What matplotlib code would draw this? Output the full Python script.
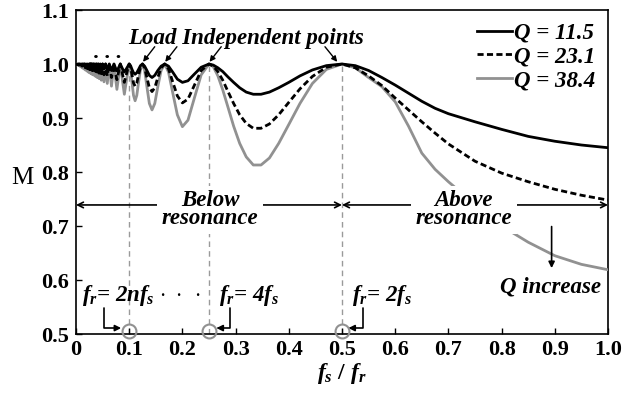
import matplotlib
matplotlib.use('Agg')
import matplotlib.pyplot as plt
from matplotlib.font_manager import FontProperties

plt.rcParams['font.family'] = ['Liberation Serif', 'DejaVu Serif']
plt.rcParams['mathtext.fontset'] = 'custom'
plt.rcParams['mathtext.it'] = 'Liberation Serif:italic:bold'
plt.rcParams['mathtext.rm'] = 'Liberation Serif:italic:bold'
plt.rcParams['mathtext.bf'] = 'Liberation Serif:italic:bold'

# normalised switching frequency fs/fr
fs_fr = [0.0, 0.0025, 0.004, 0.0055, 0.007, 0.0085, 0.01, 0.0115, 0.013, 0.0145,
         0.016, 0.0175, 0.019, 0.0205, 0.022, 0.0235,
         0.025, 0.0256, 0.0263, 0.027, 0.0278, 0.0286, 0.0294, 0.0303, 0.0313, 0.0323,
         0.0333, 0.0345, 0.0357, 0.037, 0.0385, 0.04, 0.0417, 0.0435, 0.0455, 0.0476,
         0.05, 0.0526, 0.0556, 0.0588, 0.0625, 0.0667, 0.0714,
         0.0741, 0.0769, 0.08, 0.0833,
         0.087, 0.0909, 0.0952, 0.1,
         0.1026, 0.1053, 0.1081, 0.1111, 0.1143, 0.1176, 0.1212, 0.125,
         0.129, 0.1333, 0.1379, 0.1429, 0.1481, 0.1538, 0.16, 0.1667,
         0.1739, 0.1818, 0.1905, 0.2, 0.2105, 0.2222, 0.2353, 0.25,
         0.2581, 0.2667, 0.2759, 0.2857, 0.2963, 0.3077, 0.32, 0.3333,
         0.3478, 0.3636, 0.381, 0.4, 0.421, 0.4444, 0.4706, 0.5,
         0.525, 0.55, 0.575, 0.6, 0.625, 0.65, 0.675, 0.7,
         0.75, 0.8, 0.85, 0.9, 0.95, 1.0]

# voltage gain M for each loaded Q
m_q115 = [1.0, 0.999, 1.0, 0.999, 1.0, 0.998, 1.0, 0.998, 1.0, 0.997,
          1.0, 0.997, 1.0, 0.996, 1.0, 0.996,
          1.0, 0.995, 1.0, 0.995, 1.0, 0.995, 1.0, 0.995, 1.0, 0.994,
          1.0, 0.994, 1.0, 0.993, 1.0, 0.993, 1.0, 0.992, 1.0, 0.991,
          1.0, 0.991, 1.0, 0.989, 1.0, 0.988, 1.0,
          0.993, 0.987, 0.993, 1.0,
          0.992, 0.985, 0.992, 1.0,
          0.997, 0.990, 0.984, 0.981, 0.984, 0.990, 0.997, 1.0,
          0.996, 0.988, 0.979, 0.975, 0.979, 0.988, 0.996, 1.0,
          0.996, 0.985, 0.972, 0.966, 0.969, 0.981, 0.994, 1.0,
          0.998, 0.993, 0.986, 0.976, 0.966, 0.956, 0.948, 0.944,
          0.944, 0.948, 0.956, 0.966, 0.978, 0.989, 0.997, 1.0,
          0.997, 0.988, 0.975, 0.961, 0.946, 0.931, 0.918, 0.908,
          0.893, 0.879, 0.866, 0.857, 0.850, 0.845]

m_q231 = [1.0, 0.999, 1.0, 0.998, 1.0, 0.997, 1.0, 0.996, 1.0, 0.994,
          1.0, 0.993, 1.0, 0.992, 1.0, 0.991,
          1.0, 0.990, 1.0, 0.990, 1.0, 0.989, 1.0, 0.988, 1.0, 0.988,
          1.0, 0.987, 1.0, 0.986, 1.0, 0.985, 1.0, 0.983, 1.0, 0.982,
          1.0, 0.980, 1.0, 0.978, 1.0, 0.975, 1.0,
          0.985, 0.971, 0.985, 1.0,
          0.983, 0.966, 0.983, 1.0,
          0.994, 0.980, 0.965, 0.959, 0.965, 0.980, 0.994, 1.0,
          0.993, 0.975, 0.956, 0.949, 0.956, 0.975, 0.993, 1.0,
          0.991, 0.967, 0.941, 0.928, 0.935, 0.960, 0.988, 1.0,
          0.996, 0.986, 0.970, 0.949, 0.927, 0.906, 0.890, 0.881,
          0.881, 0.889, 0.906, 0.929, 0.954, 0.977, 0.994, 1.0,
          0.993, 0.978, 0.960, 0.937, 0.915, 0.893, 0.872, 0.852,
          0.820, 0.798, 0.782, 0.768, 0.757, 0.748]

m_q384 = [1.0, 0.998, 1.0, 0.997, 1.0, 0.995, 1.0, 0.993, 1.0, 0.991,
          1.0, 0.989, 1.0, 0.987, 1.0, 0.985,
          1.0, 0.984, 1.0, 0.983, 1.0, 0.982, 1.0, 0.981, 1.0, 0.980,
          1.0, 0.979, 1.0, 0.977, 1.0, 0.975, 1.0, 0.973, 1.0, 0.970,
          1.0, 0.967, 1.0, 0.964, 1.0, 0.959, 1.0,
          0.976, 0.953, 0.976, 1.0,
          0.972, 0.944, 0.972, 1.0,
          0.990, 0.966, 0.942, 0.932, 0.942, 0.966, 0.990, 1.0,
          0.988, 0.958, 0.927, 0.915, 0.927, 0.958, 0.988, 1.0,
          0.985, 0.947, 0.906, 0.884, 0.896, 0.936, 0.980, 1.0,
          0.995, 0.978, 0.952, 0.920, 0.885, 0.853, 0.828, 0.813,
          0.813, 0.826, 0.853, 0.888, 0.927, 0.964, 0.990, 1.0,
          0.993, 0.975, 0.958, 0.930, 0.885, 0.835, 0.805, 0.782,
          0.740, 0.700, 0.670, 0.645, 0.629, 0.619]

q_labels = ['Q = 11.5', 'Q = 23.1', 'Q = 38.4']

# load independent points (fr = 2n fs) that carry an arrow
peak_x = [0.125, 0.1667, 0.25, 0.5]
# resonance points marked with circles on the x axis
res_x = [0.1, 0.25, 0.5]
res_labels = [r'$f_r$= 2$nf_s$ $\cdot\ \cdot\ \cdot$', r'$f_r$= 4$f_s$', r'$f_r$= 2$f_s$']

x_ticks = [0, 0.1, 0.2, 0.3, 0.4, 0.5, 0.6, 0.7, 0.8, 0.9, 1.0]
x_ticklabels = ['0', '0.1', '0.2', '0.3', '0.4', '0.5', '0.6', '0.7', '0.8', '0.9', '1.0']
y_ticks = [0.5, 0.6, 0.7, 0.8, 0.9, 1.0, 1.1]
y_ticklabels = ['0.5', '0.6', '0.7', '0.8', '0.9', '1.0', '1.1']

bi = dict(fontstyle='italic', fontweight='bold')
grey = '#919191'

fig = plt.figure(figsize=(6.27, 3.93), dpi=100)
ax = fig.add_axes([0.1212, 0.1501, 0.8485, 0.8244])

l3, = ax.plot(fs_fr, m_q384, color=grey, lw=2, zorder=3)
l2, = ax.plot(fs_fr, m_q231, color='black', lw=2, ls=(0, (2.2, 1.2)), zorder=4)
l1, = ax.plot(fs_fr, m_q115, color='black', lw=2, zorder=5)

ax.vlines(res_x, 0.5, 1.0, colors='#9a9a9a', linestyles=(0, (4, 3)), lw=1, zorder=1)
ax.plot(res_x, [0.505] * len(res_x), 'o', ms=10, mfc='none', mec=grey, mew=1.5,
        clip_on=False, zorder=6)

ax.set_xlim(0, 1)
ax.set_ylim(0.5, 1.1)
ax.set_xticks(x_ticks)
ax.set_xticklabels(x_ticklabels)
ax.set_yticks(y_ticks)
ax.set_yticklabels(y_ticklabels)
ax.tick_params(direction='in', length=4, width=1, labelsize=16)
ax.tick_params(axis='x', pad=4)
ax.tick_params(axis='y', pad=5)
for lab in ax.get_xticklabels() + ax.get_yticklabels():
    lab.set_fontweight('bold')
for sp in ax.spines.values():
    sp.set_linewidth(1.2)

ax.set_xlabel(r'$f_s$ / $f_r$', fontsize=17, fontweight='bold', labelpad=1)
ax.set_ylabel('M', fontsize=18, rotation=0, va='center')
ax.yaxis.set_label_coords(-0.1, 0.483)

leg = ax.legend([l1, l2, l3], q_labels, loc='upper right', frameon=False,
                prop=FontProperties(family='Liberation Serif', style='italic',
                                    weight='bold', size=16.5),
                handlelength=1.5, handletextpad=0.1, labelspacing=0.12,
                borderaxespad=0.15)

# load independent points
ax.text(0.32, 1.048, 'Load Independent points', fontsize=16.5, ha='center',
        va='center', **bi)
ax.text(0.06, 1.012, '. . .', fontsize=16, ha='center', va='baseline', **bi)
for px in peak_x:
    if px < 0.4:
        tail, head = px + 0.023, px + 0.001
    else:
        tail, head = px - 0.032, px - 0.009
    ax.annotate('', xy=(head, 1.004), xytext=(tail, 1.032),
                arrowprops=dict(arrowstyle='-|>', color='black', lw=1,
                                mutation_scale=8, shrinkA=0, shrinkB=0))

# below / above resonance regions
arr = dict(arrowstyle='<->', color='black', lw=1.2, mutation_scale=10,
           shrinkA=0, shrinkB=0)
ax.annotate('', xy=(0.0, 0.739), xytext=(0.5, 0.739), arrowprops=arr, zorder=5)
ax.annotate('', xy=(0.5, 0.739), xytext=(1.0, 0.739), arrowprops=arr, zorder=5)
box = dict(boxstyle='square,pad=0.2', fc='white', ec='none')
ax.text(0.252, 0.73, 'Below\nresonance', fontsize=16.5, ha='center', va='center',
        linespacing=0.8, bbox=box, zorder=7, **bi)
ax.text(0.729, 0.73, 'Above\nresonance', fontsize=16.5, ha='center', va='center',
        linespacing=0.8, bbox=box, zorder=7, **bi)

# Q increase
ax.annotate('', xy=(0.894, 0.622), xytext=(0.894, 0.699),
            arrowprops=dict(arrowstyle='-|>', color='black', lw=1.2,
                            mutation_scale=9, shrinkA=0, shrinkB=0))
ax.text(0.891, 0.587, 'Q increase', fontsize=16.5, ha='center', va='center', **bi)

# resonance point labels with bent arrows
lab_x = [0.124, 0.326, 0.576]
bend_x = [0.0526, 0.2895, 0.5395]
tip_x = [0.085, 0.264, 0.512]
for lx, bx, tx, txt in zip(lab_x, bend_x, tip_x, res_labels):
    ax.text(lx, 0.572, txt, fontsize=16.5, ha='center', va='center', **bi)
    ax.annotate('', xy=(tx, 0.511), xytext=(bx, 0.549),
                arrowprops=dict(arrowstyle='-|>', color='black', lw=1.2,
                                mutation_scale=9, shrinkA=0, shrinkB=0,
                                connectionstyle='angle,angleA=90,angleB=0,rad=0'))

fig.savefig('out.png', dpi=100)
